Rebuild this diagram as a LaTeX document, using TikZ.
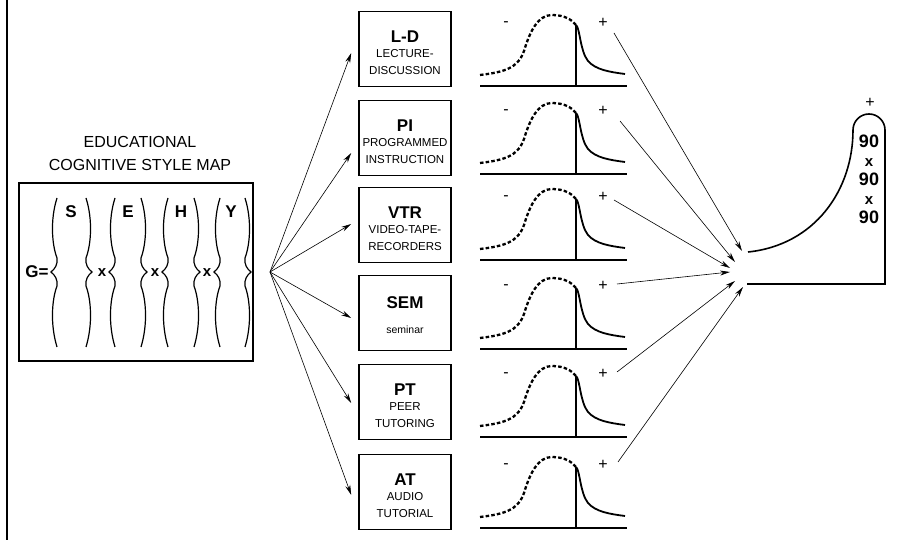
\documentclass[tikz,border=0pt]{standalone}
\usepackage{fontspec}
\setmainfont{Liberation Sans}
\usetikzlibrary{arrows.meta,calc}
\tikzset{
  mbox/.style={draw, line width=1.6pt, minimum width=92pt, minimum height=75pt, inner sep=0pt},
  mtxt/.style={align=center, inner sep=0pt, font=\fontsize{11.5}{17}\selectfont},
  fan/.style={-{Stealth[length=10pt,width=5pt]}, line width=0.6pt},
  brk/.style={line width=1.2pt},
  dcurve/.style={line width=2.3pt, dash pattern=on 3.5pt off 2.2pt},
  scurve/.style={line width=1.8pt},
  bigl/.style={font=\fontsize{17}{17}\selectfont\bfseries, inner sep=0pt},
  smx/.style={font=\fontsize{15}{15}\selectfont\bfseries, inner sep=0pt},
  pm/.style={font=\fontsize{16}{16}\selectfont, inner sep=0pt},
}
\newcommand\ttl[1]{{\fontsize{17}{17}\selectfont\bfseries #1}}
\begin{document}
\begin{tikzpicture}[x=1pt,y=-1pt]
\useasboundingbox (0,0) rectangle (898,540);
\draw[line width=1.5pt] (7,0) -- (7,540);

% title and map
\node[font=\fontsize{16}{23}\selectfont, align=center] (title) at (140,153) {EDUCATIONAL\\COGNITIVE STYLE MAP};
\draw[line width=1.6pt] (19,183) rectangle (253,361);
\node[bigl] (G) at (37,272) {G=};
\foreach \a in {57,115,168,220}
  \draw[brk] (\a,198) .. controls (\a-7,220) and (\a-5,245) .. (\a,258) .. controls (\a+1,264) and (\a-2,269) .. (\a-6,272) .. controls (\a-2,275) and (\a+1,280) .. (\a,286) .. controls (\a-5,299) and (\a-7,324) .. (\a,347);
\foreach \b in {86,141,194,245}
  \draw[brk] (\b,198) .. controls (\b+7,220) and (\b+5,245) .. (\b,258) .. controls (\b-1,264) and (\b+2,269) .. (\b+6,272) .. controls (\b+2,275) and (\b-1,280) .. (\b,286) .. controls (\b+5,299) and (\b+7,324) .. (\b,347);
\node[bigl] (S) at (71,212) {S};
\node[bigl] (E) at (128,212) {E};
\node[bigl] (H) at (181,212) {H};
\node[bigl] (Y) at (231,212) {Y};
\node[smx] (x1) at (102,273) {x};
\node[smx] (x2) at (155,273) {x};
\node[smx] (x3) at (207,273) {x};

% media boxes
\coordinate (o) at (270,272);
\node[mbox] (ld)  at (405,49)  {};
\node[mbox] (pi)  at (405,138) {};
\node[mbox] (vtr) at (405,225) {};
\node[mbox] (sem) at (405,313) {};
\node[mbox] (pt)  at (405,402) {};
\node[mbox] (at)  at (405,492) {};
\node[mtxt] (ldt)  at ($(ld.center)+(0,4)$)  {\ttl{L-D}\\[-2pt]LECTURE-\\DISCUSSION};
\node[mtxt] (pit)  at ($(pi.center)+(0,4)$)  {\ttl{PI}\\[-2pt]PROGRAMMED\\INSTRUCTION};
\node[mtxt] (vtrt) at ($(vtr.center)+(0,4)$) {\ttl{VTR}\\[-2pt]VIDEO-TAPE-\\RECORDERS};
\node[bigl, font=\fontsize{17}{17}\selectfont\bfseries] (semt) at ($(sem.center)+(0,-10)$) {SEM};
\node[mtxt, font=\fontsize{10.5}{12}\selectfont] (sems) at ($(sem.center)+(0,17)$) {seminar};
\node[mtxt] (ptt)  at ($(pt.center)+(0,4)$)  {\ttl{PT}\\[-2pt]PEER\\TUTORING};
\node[mtxt] (att)  at ($(at.center)+(0,4)$)  {\ttl{AT}\\[-2pt]AUDIO\\TUTORIAL};
\draw[fan] (o) -- ($(ld.west)+(-7,4)$);
\draw[fan] (o) -- ($(pi.west)+(-7,15)$);
\draw[fan] (o) -- ($(vtr.west)+(-7,-1)$);
\draw[fan] (o) -- ($(sem.west)+(-7,5)$);
\draw[fan] (o) -- ($(pt.west)+(-7,1)$);
\draw[fan] (o) -- ($(at.west)+(-7,3)$);

% curves
\foreach \B [count=\i] in {86,174,260,349,437,528} {
  \draw[line width=2.2pt] (480,\B) -- (627,\B);
  \draw[line width=1.8pt] (576,\B) -- (576,\B-61);
  \draw[dcurve] (480,\B-11) .. controls (505,\B-14) and (518,\B-18) .. (524,\B-35) .. controls (530,\B-55) and (538,\B-71) .. (552,\B-71) .. controls (565,\B-71) and (572,\B-66) .. (576,\B-61);
  \draw[scurve] (576,\B-61) .. controls (580,\B-58) and (580,\B-35) .. (588,\B-25) .. controls (596,\B-16) and (610,\B-14) .. (625,\B-12);
  \node[pm] (m\i) at (506,\B-62) {-};
  \node[pm] (p\i) at (603,\B-63) {+};
}

% convergence
\coordinate (s1) at (614,33);
\coordinate (s2) at (620,121);
\coordinate (s3) at (614,200);
\coordinate (s4) at (617,284);
\coordinate (s5) at (617,372);
\coordinate (s6) at (618,462);
\coordinate (t1) at (742,251);
\coordinate (t2) at (735,262);
\coordinate (t3) at (730,268);
\coordinate (t4) at (730,272);
\coordinate (t5) at (735,281);
\coordinate (t6) at (743,287);
\foreach \i in {1,...,6} \draw[fan] (s\i) -- (t\i);

% result shape
\draw[line width=1.6pt] (748,252) .. controls (815,245) and (853,190) .. (853,130) arc[start angle=180, end angle=360, radius=16] -- (885,284) -- (747,284);
\node[pm] (ptop) at (870,103) {+};
\node[font=\fontsize{18}{21}\selectfont\bfseries, align=center, inner sep=0pt] (res) at (869,179) {90\\[-2pt]{\fontsize{15}{15}\selectfont x}\\[-2pt]90\\[-2pt]{\fontsize{15}{15}\selectfont x}\\[-2pt]90};
\end{tikzpicture}
\end{document}
